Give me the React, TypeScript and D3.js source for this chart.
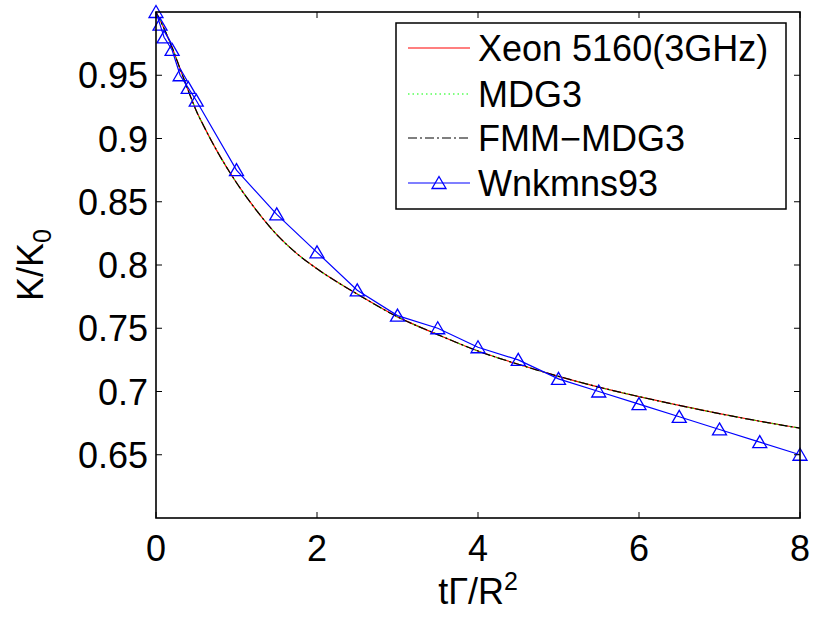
import React from "react";
import * as d3 from "d3";

// Computed curves (Xeon 5160, MDG3, FMM-MDG3 overlap)
const curveT = [0, 0.1, 0.2, 0.3, 0.4, 0.5, 0.6, 0.75, 1.0, 1.25, 1.5, 1.75, 2.0, 2.5, 3.0, 3.5, 4.0, 4.5, 5.0, 5.5, 6.0, 6.5, 7.0, 7.5, 8.0];
const xeonK = [1.0, 0.987, 0.972, 0.955, 0.938, 0.922, 0.909, 0.891, 0.865, 0.843, 0.824, 0.809, 0.797, 0.777, 0.759, 0.745, 0.732, 0.7215, 0.712, 0.7035, 0.696, 0.689, 0.6825, 0.6765, 0.671];
const mdg3K = [1.0, 0.987, 0.972, 0.955, 0.938, 0.922, 0.909, 0.891, 0.865, 0.843, 0.824, 0.809, 0.797, 0.777, 0.759, 0.745, 0.732, 0.7215, 0.712, 0.7035, 0.696, 0.689, 0.6825, 0.6765, 0.671];
const fmmK = [1.0, 0.987, 0.972, 0.955, 0.938, 0.922, 0.909, 0.891, 0.865, 0.843, 0.824, 0.809, 0.797, 0.777, 0.759, 0.745, 0.732, 0.7215, 0.712, 0.7035, 0.696, 0.689, 0.6825, 0.6765, 0.671];

// Wnkmns93 reference points
const wT = [0, 0.05, 0.1, 0.2, 0.3, 0.4, 0.5, 1, 1.5, 2, 2.5, 3, 3.5, 4, 4.5, 5, 5.5, 6, 6.5, 7, 7.5, 8];
const wK = [1.0, 0.99, 0.98, 0.97, 0.95, 0.94, 0.93, 0.875, 0.84, 0.81, 0.78, 0.76, 0.75, 0.735, 0.725, 0.71, 0.70, 0.69, 0.68, 0.67, 0.66, 0.65];

const xTicks = [0, 2, 4, 6, 8];
const yTicks = [0.65, 0.7, 0.75, 0.8, 0.85, 0.9, 0.95];
const legendLabels = ["Xeon 5160(3GHz)", "MDG3", "FMM\u2212MDG3", "Wnkmns93"];

const W = 814, H = 620;
const L = 156, R = 800, T = 12, B = 518;
const FONT = "'Liberation Sans', Arial, Helvetica, sans-serif";

export default function App() {
  const x = d3.scaleLinear().domain([0, 8]).range([L, R]);
  const y = d3.scaleLinear().domain([0.6, 1.0]).range([B, T]);
  const line = d3.line<[number, number]>().x(d => x(d[0])).y(d => y(d[1])).curve(d3.curveMonotoneX);
  const lin = d3.line<[number, number]>().x(d => x(d[0])).y(d => y(d[1]));
  const zip = (a: number[], b: number[]) => a.map((v, i) => [v, b[i]] as [number, number]);
  const tri = (cx: number, cy: number) => `M${cx},${cy - 6.5}L${cx + 7},${cy + 5.5}L${cx - 7},${cy + 5.5}Z`;

  const legX0 = 408, legX1 = 470, legTx = 478;
  const rows = [48, 94, 138, 183];

  return (
    <svg width={W} height={H} style={{ position: "absolute", left: 0, top: 0, background: "#fff" }} fontFamily={FONT}>
      <rect x={0} y={0} width={W} height={H} fill="#fff" />
      {/* curves */}
      <path d={line(zip(curveT, xeonK))!} fill="none" stroke="#ff0000" strokeWidth={1.2} />
      <path d={line(zip(curveT, mdg3K))!} fill="none" stroke="#00ff00" strokeWidth={1.2} strokeDasharray="1.5,3" />
      <path d={line(zip(curveT, fmmK))!} fill="none" stroke="#000" strokeWidth={1.2} strokeDasharray="9,3,2,3" />
      <path d={lin(zip(wT, wK))!} fill="none" stroke="#0000ff" strokeWidth={1.2} />
      {wT.map((t, i) => (
        <path key={i} d={tri(x(t), y(wK[i]))} fill="none" stroke="#0000ff" strokeWidth={1.3} />
      ))}
      {/* frame */}
      <rect x={L} y={T} width={R - L} height={B - T} fill="none" stroke="#000" strokeWidth={1.6} />
      {xTicks.map(t => (
        <g key={t}>
          <line x1={x(t)} x2={x(t)} y1={B} y2={B - 6} stroke="#000" strokeWidth={1} />
          <line x1={x(t)} x2={x(t)} y1={T} y2={T + 6} stroke="#000" strokeWidth={1} />
          <text x={x(t)} y={561} fontSize={36} textAnchor="middle" fill="#000">{t}</text>
        </g>
      ))}
      {yTicks.map(v => (
        <g key={v}>
          <line x1={L} x2={L + 6} y1={y(v)} y2={y(v)} stroke="#000" strokeWidth={1} />
          <line x1={R} x2={R - 6} y1={y(v)} y2={y(v)} stroke="#000" strokeWidth={1} />
          <text x={148} y={y(v) + 13} fontSize={36} textAnchor="end" fill="#000">{String(v)}</text>
        </g>
      ))}
      {/* axis labels */}
      <text x={478} y={604} fontSize={36} textAnchor="middle" fill="#000">
        t{"\u0393"}/R<tspan dy={-14} fontSize={25}>2</tspan>
      </text>
      <text transform="translate(43,265) rotate(-90)" fontSize={36} textAnchor="middle" fill="#000">
        K/K<tspan dy={8} fontSize={25}>0</tspan>
      </text>
      {/* legend */}
      <rect x={396} y={23} width={390} height={186} fill="#fff" stroke="#000" strokeWidth={1.5} />
      <line x1={legX0} x2={legX1} y1={rows[0]} y2={rows[0]} stroke="#ff0000" strokeWidth={1.2} />
      <line x1={legX0} x2={legX1} y1={rows[1]} y2={rows[1]} stroke="#00ff00" strokeWidth={1.2} strokeDasharray="1.5,3" />
      <line x1={legX0} x2={legX1} y1={rows[2]} y2={rows[2]} stroke="#000" strokeWidth={1.2} strokeDasharray="9,3,2,3" />
      <line x1={legX0} x2={legX1} y1={rows[3]} y2={rows[3]} stroke="#0000ff" strokeWidth={1.2} />
      <path d={tri((legX0 + legX1) / 2, rows[3])} fill="none" stroke="#0000ff" strokeWidth={1.3} />
      {legendLabels.map((s, i) => (
        <text key={s} x={legTx} y={rows[i] + 13} fontSize={36} fill="#000">{s}</text>
      ))}
    </svg>
  );
}
